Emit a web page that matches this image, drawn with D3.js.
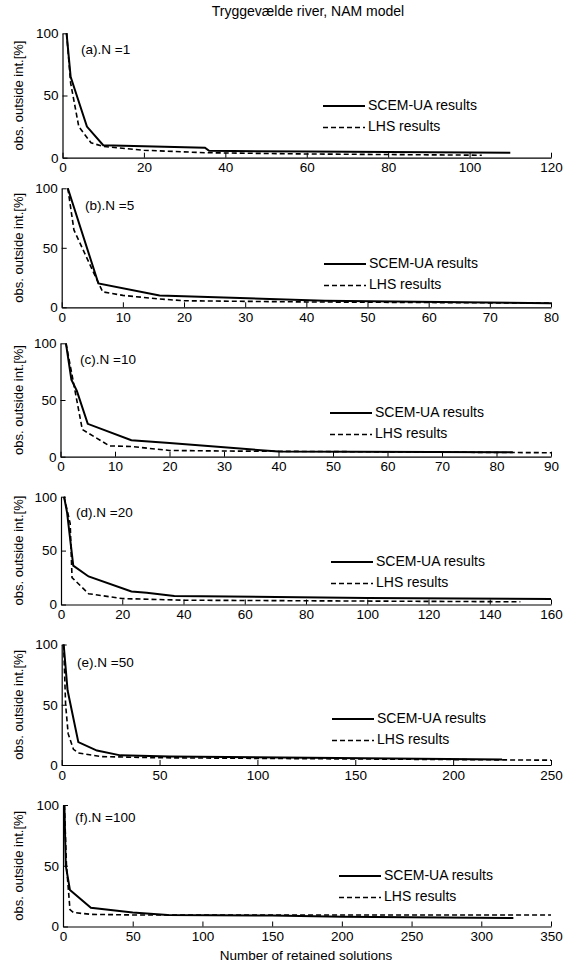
<!DOCTYPE html>
<html><head><meta charset="utf-8">
<script src="https://cdn.jsdelivr.net/npm/d3@7"></script>
<style>body{margin:0;background:#fff}svg{display:block}text{font-family:"Liberation Sans",Arial,sans-serif;fill:#000}</style>
</head><body><svg id="c" width="567" height="966"></svg>
<script>
// ---- data ----
const panelLabels = ["(a).N =1","(b).N =5","(c).N =10","(d).N =20","(e).N =50","(f).N =100"];
const xMax = [120, 80, 90, 160, 250, 350];
const xStep = [20, 10, 10, 20, 50, 50];
const yTicks = [0, 50, 100];
const seriesNames = ["SCEM-UA results", "LHS results"];

const scemA = [[1,100],[2,65],[3,55],[6,25],[10,10],[35,8],[36,5.5],[60,5],[110,4]];
const lhsA  = [[1,100],[2,60],[4,25],[7,12],[10,9],[20,6],[35,4],[60,3],[103,2]];
const scemB = [[1,100],[6,20],[16,10],[43,5.5],[80,3.5]];
const lhsB  = [[1,100],[2,65],[5.5,26],[6.7,13],[10,10],[16,7],[20,5.5],[40,4.5],[80,3.5]];
const scemC = [[1,100],[2,68],[3,58],[5,29],[13,14.5],[20,12],[40,4.5],[83,4]];
const lhsC  = [[1,100],[2,75],[4,24],[9,9.5],[13,9],[20,5.5],[30,5],[90,3.5]];
const scemD = [[1,100],[2,85],[4,36],[9,26],[23,12],[28,11],[37,8],[100,6],[160,5]];
const lhsD  = [[1,100],[3,75],[3.6,25],[9,10],[20,5.5],[40,4],[150,2.5]];
const scemE = [[1,100],[3,62],[8.5,19],[18,12],[30,8],[55,7],[225,4.5]];
const lhsE  = [[1,100],[2,50],[3.3,26],[6,13],[8.5,10],[20,7],[50,6],[250,4]];
const scemF = [[1,100],[2,50],[5,30],[20,15.5],[50,11.5],[75,9.5],[150,9],[200,8],[323,7]];
const lhsF  = [[1,100],[2.5,50],[5,14],[7.5,11.5],[20,10],[50,9.5],[350,9.5]];
const scemSeries = [scemA, scemB, scemC, scemD, scemE, scemF];
const lhsSeries  = [lhsA, lhsB, lhsC, lhsD, lhsE, lhsF];

// ---- layout ----
const panels = [
  {top:33.3, bot:157.7, left:62.5, lx:323, ly:106, tx:81, ty:50},
  {top:188.3, bot:307.3, left:61.7, lx:324, ly:264, tx:85, ty:206},
  {top:343.3, bot:456.7, left:60.5, lx:330, ly:413, tx:80, ty:360},
  {top:496.7, bot:604.5, left:61, lx:331, ly:562, tx:76, ty:513},
  {top:644.5, bot:765, left:61.7, lx:332, ly:719, tx:77, ty:663},
  {top:805, bot:926.5, left:63, lx:339, ly:876, tx:75, ty:818}
];
const right = 551;
const svg = d3.select("#c");

svg.append("text").attr("x", 308).attr("y", 16).attr("text-anchor","middle")
  .style("font-size","14px").text("Tryggevælde river, NAM model");

panels.forEach((p, i) => {
  const x = d3.scaleLinear().domain([0, xMax[i]]).range([p.left, right]);
  const y = d3.scaleLinear().domain([0, 100]).range([p.bot, p.top]);
  const g = svg.append("g");
  const xt = d3.range(0, xMax[i] + 1e-9, xStep[i]);

  const xa = g.append("g").attr("transform", `translate(0,${p.bot})`)
    .call(d3.axisBottom(x).tickValues(xt).tickSizeInner(-5).tickSizeOuter(0).tickPadding(5));
  const ya = g.append("g").attr("transform", `translate(${p.left},0)`)
    .call(d3.axisLeft(y).tickValues(yTicks).tickSizeInner(-5).tickSizeOuter(0).tickPadding(4));
  [xa, ya].forEach(a => {
    a.select(".domain").attr("stroke", "#000").attr("stroke-width", 1.2);
    a.selectAll(".tick line").attr("stroke", "#000");
    a.selectAll(".tick text").style("font-size", "13.5px").attr("fill", "#000")
      .style("font-family", '"Liberation Sans",Arial,sans-serif');
  });
  xa.selectAll(".tick text").attr("dy", "0.71em");

  const line = d3.line().x(d => x(d[0])).y(d => y(d[1]));
  g.append("path").datum(lhsSeries[i]).attr("d", line).attr("fill","none")
    .attr("stroke","#000").attr("stroke-width",1.6).attr("stroke-dasharray","5,3");
  g.append("path").datum(scemSeries[i]).attr("d", line).attr("fill","none")
    .attr("stroke","#000").attr("stroke-width",2);

  g.append("text").attr("x", p.tx).attr("y", p.ty).attr("dominant-baseline","middle")
    .style("font-size","13.5px").text(panelLabels[i]);

  // legend
  const lg = g.append("g");
  [0, 1].forEach(k => {
    const yy = p.ly + k * 21.5;
    lg.append("line").attr("x1", p.lx).attr("x2", p.lx + 42).attr("y1", yy).attr("y2", yy)
      .attr("stroke","#000").attr("stroke-width", k === 0 ? 2 : 1.6)
      .attr("stroke-dasharray", k === 0 ? null : "5,3");
    lg.append("text").attr("x", p.lx + 45).attr("y", yy).attr("dominant-baseline","middle")
      .style("font-size","14px").text(seriesNames[k]);
  });

  svg.append("text").attr("transform", `translate(20,${(p.top + p.bot) / 2}) rotate(-90)`)
    .attr("text-anchor","middle").attr("dominant-baseline","middle")
    .style("font-size","13px").text("obs. outside int.[%]");
});

svg.append("text").attr("x", 306).attr("y", 960).attr("text-anchor","middle")
  .style("font-size","13.5px").text("Number of retained solutions");
</script></body></html>
